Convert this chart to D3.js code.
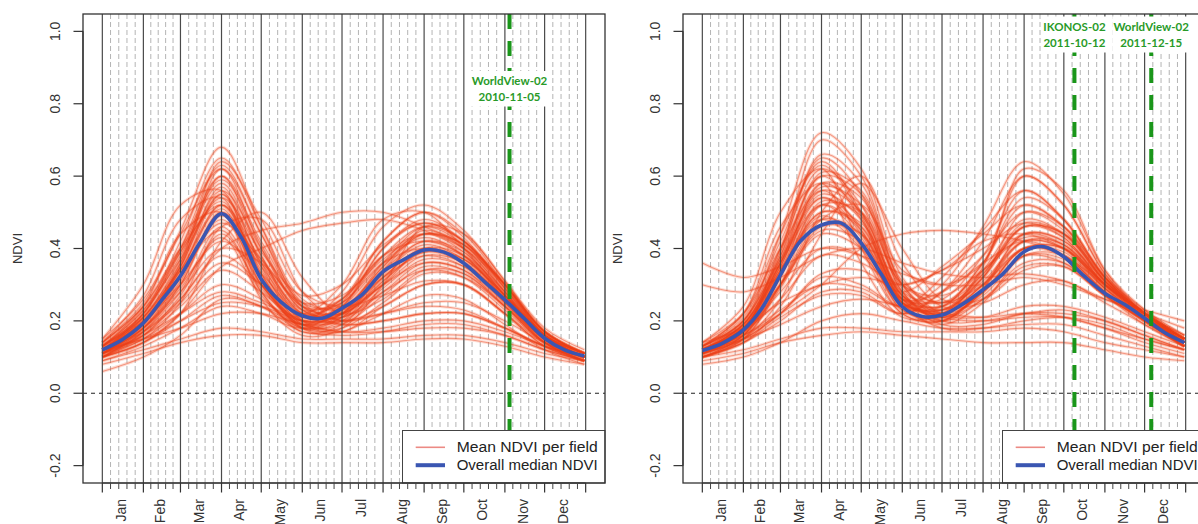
<!DOCTYPE html>
<html>
<head>
<meta charset="utf-8">
<script src="https://cdn.jsdelivr.net/npm/d3@7"></script>
<style>
body { margin: 0; background: #fff; }
svg { display: block; font-family: "Liberation Sans", Arial, sans-serif; }
</style>
</head>
<body>
<svg id="chart" width="1198" height="524"></svg>
<script>
// month axis
var months = ["Jan","Feb","Mar","Apr","May","Jun","Jul","Aug","Sep","Oct","Nov","Dec"];
var monthStarts = [0,31,59,90,120,151,181,212,243,273,304,334,365];
var yTicks = [-0.2, 0.0, 0.2, 0.4, 0.6, 0.8, 1.0];
var legendLabels = ["Mean NDVI per field", "Overall median NDVI"];

// day of year of the samples
var fieldDays = [0,31,59,90,120,151,181,212,243,273,304,334,364];
var medianDays = [0,15,31,45,59,74,90,105,120,135,151,166,181,196,212,227,243,258,273,288,304,319,334,349,364];

// overall median NDVI
var median2010 = [0.120,0.148,0.194,0.258,0.324,0.418,0.496,0.430,0.315,0.252,0.214,0.207,0.235,0.272,0.336,0.368,0.396,0.390,0.359,0.310,0.258,0.205,0.152,0.120,0.103];
var median2011 = [0.118,0.138,0.175,0.235,0.327,0.420,0.465,0.470,0.415,0.330,0.239,0.212,0.216,0.245,0.286,0.330,0.391,0.405,0.377,0.325,0.276,0.245,0.207,0.168,0.140];

// mean NDVI per field (a readable subset of the fields)
var fields2010 = [
  [.12,.20,.34,.52,.34,.21,.24,.36,.43,.38,.26,.15,.10],
  [.11,.18,.31,.50,.30,.20,.22,.33,.41,.37,.27,.16,.11],
  [.13,.22,.38,.58,.38,.22,.22,.30,.40,.38,.28,.16,.10],
  [.10,.17,.28,.46,.30,.19,.23,.35,.45,.40,.28,.15,.10],
  [.12,.21,.36,.56,.40,.24,.25,.38,.46,.41,.29,.17,.11],
  [.14,.24,.40,.60,.42,.25,.24,.34,.42,.39,.27,.15,.10],
  [.11,.19,.33,.55,.36,.20,.20,.28,.36,.34,.25,.15,.10],
  [.12,.20,.35,.62,.44,.24,.22,.31,.39,.37,.27,.16,.10],
  [.13,.23,.39,.53,.33,.20,.24,.40,.48,.42,.30,.17,.11],
  [.10,.16,.27,.44,.29,.19,.21,.33,.42,.38,.26,.14,.09],
  [.12,.19,.32,.48,.32,.21,.26,.42,.50,.43,.29,.16,.10],
  [.11,.18,.30,.49,.35,.22,.23,.32,.38,.35,.25,.14,.09],
  [.13,.21,.35,.57,.35,.19,.19,.27,.35,.33,.24,.15,.10],
  [.12,.22,.42,.65,.46,.26,.23,.30,.38,.36,.26,.16,.11],
  [.15,.26,.44,.62,.40,.23,.21,.29,.37,.35,.26,.16,.11],
  [.11,.19,.34,.51,.31,.18,.18,.25,.33,.32,.24,.14,.09],
  [.12,.20,.33,.47,.37,.25,.27,.37,.44,.41,.30,.17,.11],
  [.13,.23,.37,.54,.39,.27,.30,.41,.47,.42,.30,.17,.11],
  [.12,.21,.37,.60,.38,.20,.17,.18,.20,.20,.17,.13,.10],
  [.11,.19,.35,.55,.33,.18,.16,.17,.19,.19,.16,.12,.09],
  [.14,.25,.45,.68,.46,.24,.19,.20,.22,.22,.18,.13,.10],
  [.13,.22,.40,.63,.44,.25,.20,.22,.25,.25,.20,.14,.10],
  [.10,.17,.30,.50,.36,.22,.19,.20,.22,.22,.18,.13,.09],
  [.10,.15,.22,.30,.26,.19,.25,.42,.50,.44,.30,.16,.10],
  [.11,.16,.24,.34,.28,.20,.28,.46,.52,.45,.31,.17,.11],
  [.09,.13,.18,.24,.22,.18,.24,.40,.47,.42,.29,.16,.10],
  [.12,.17,.25,.36,.30,.22,.30,.48,.50,.40,.27,.15,.10],
  [.10,.14,.20,.27,.24,.19,.22,.35,.44,.41,.28,.15,.10],
  [.11,.16,.22,.28,.25,.21,.26,.38,.42,.38,.27,.16,.11],
  [.09,.12,.15,.18,.17,.15,.15,.15,.16,.16,.14,.11,.09],
  [.08,.11,.14,.16,.16,.14,.14,.14,.15,.15,.13,.10,.08],
  [.12,.15,.20,.25,.24,.20,.20,.22,.24,.23,.18,.13,.10],
  [.10,.14,.22,.35,.40,.45,.47,.48,.45,.40,.30,.17,.11],
  [.11,.16,.26,.40,.45,.47,.50,.50,.46,.41,.30,.16,.10],
  [.12,.15,.18,.22,.22,.19,.17,.17,.18,.18,.16,.12,.09],
  [.06,.10,.16,.26,.24,.17,.17,.22,.27,.26,.19,.12,.08],
  [.12,.18,.28,.40,.36,.24,.22,.30,.36,.34,.24,.14,.10],
  [.11,.17,.26,.38,.30,.19,.17,.24,.30,.30,.22,.13,.09],
  [.13,.20,.30,.42,.33,.22,.25,.36,.40,.36,.25,.15,.10],
  [.14,.24,.40,.52,.32,.18,.20,.32,.40,.37,.27,.16,.10],
  [.12,.22,.39,.59,.41,.23,.21,.28,.34,.32,.23,.14,.09],
  [.10,.18,.32,.52,.37,.23,.26,.38,.44,.39,.27,.15,.10],
  [.13,.21,.34,.45,.28,.17,.19,.31,.39,.36,.26,.15,.10],
  [.11,.18,.29,.43,.27,.18,.22,.36,.46,.42,.30,.17,.11],
  [.12,.20,.36,.64,.48,.28,.24,.27,.31,.30,.22,.14,.10],
  [.15,.30,.52,.56,.30,.20,.22,.32,.40,.36,.26,.16,.11],
  [.14,.27,.48,.54,.28,.18,.21,.34,.44,.40,.28,.16,.10],
  [.10,.14,.22,.42,.50,.32,.22,.26,.34,.33,.24,.14,.09],
  [.11,.15,.25,.46,.48,.28,.20,.24,.30,.30,.22,.13,.09],
  [.13,.24,.44,.50,.26,.16,.18,.30,.46,.44,.31,.18,.12]
];

var fields2011 = [
  [.12,.18,.36,.55,.48,.26,.22,.30,.42,.40,.29,.21,.14],
  [.11,.17,.33,.52,.45,.25,.23,.33,.46,.43,.30,.22,.15],
  [.13,.20,.40,.62,.52,.27,.21,.28,.40,.39,.29,.21,.15],
  [.12,.18,.34,.50,.47,.28,.25,.34,.44,.41,.30,.22,.15],
  [.10,.15,.30,.48,.44,.25,.22,.30,.40,.38,.28,.20,.13],
  [.12,.19,.38,.66,.58,.30,.22,.27,.38,.37,.28,.21,.14],
  [.11,.17,.32,.58,.54,.28,.20,.26,.36,.36,.27,.20,.13],
  [.13,.21,.42,.64,.50,.25,.20,.29,.42,.41,.30,.22,.15],
  [.12,.18,.35,.56,.50,.27,.24,.36,.52,.46,.31,.22,.14],
  [.11,.16,.30,.45,.42,.26,.26,.38,.56,.48,.32,.22,.15],
  [.12,.19,.37,.60,.55,.31,.25,.33,.47,.44,.31,.22,.14],
  [.10,.16,.32,.53,.49,.27,.23,.32,.50,.46,.32,.21,.13],
  [.13,.20,.39,.70,.60,.30,.21,.26,.35,.35,.27,.20,.14],
  [.12,.18,.36,.52,.43,.23,.22,.35,.60,.52,.33,.22,.14],
  [.11,.17,.33,.49,.41,.24,.24,.36,.54,.48,.32,.22,.15],
  [.12,.19,.35,.57,.52,.30,.27,.34,.43,.41,.30,.22,.15],
  [.12,.18,.36,.58,.50,.26,.19,.19,.22,.22,.20,.16,.12],
  [.11,.17,.40,.65,.55,.28,.20,.20,.22,.23,.20,.16,.12],
  [.13,.20,.44,.72,.62,.32,.22,.21,.24,.24,.21,.17,.13],
  [.12,.19,.38,.60,.48,.25,.18,.18,.20,.21,.19,.15,.12],
  [.10,.16,.34,.54,.46,.27,.21,.20,.21,.21,.18,.14,.11],
  [.10,.14,.20,.28,.28,.22,.28,.42,.60,.52,.33,.22,.14],
  [.11,.15,.22,.32,.30,.24,.30,.46,.64,.55,.34,.23,.15],
  [.12,.16,.23,.30,.29,.24,.32,.45,.56,.48,.32,.22,.15],
  [.10,.14,.21,.27,.27,.22,.28,.38,.50,.45,.31,.21,.14],
  [.11,.15,.22,.33,.34,.28,.35,.44,.52,.46,.32,.21,.14],
  [.12,.17,.26,.38,.36,.30,.34,.40,.47,.43,.30,.21,.14],
  [.09,.11,.14,.16,.17,.16,.15,.14,.14,.14,.12,.10,.09],
  [.10,.12,.15,.18,.18,.17,.17,.17,.18,.17,.14,.12,.10],
  [.30,.28,.32,.38,.40,.36,.33,.32,.33,.31,.26,.22,.18],
  [.36,.32,.35,.40,.38,.33,.30,.30,.32,.30,.26,.23,.20],
  [.12,.15,.19,.24,.26,.24,.22,.21,.22,.21,.18,.15,.12],
  [.08,.10,.14,.20,.22,.20,.18,.18,.19,.19,.16,.13,.10],
  [.14,.18,.25,.30,.32,.30,.34,.42,.44,.40,.30,.22,.16],
  [.12,.16,.22,.30,.40,.44,.45,.44,.42,.38,.30,.22,.15],
  [.12,.18,.30,.44,.40,.26,.28,.36,.42,.38,.28,.20,.14],
  [.11,.17,.28,.40,.38,.25,.22,.28,.38,.36,.27,.19,.13],
  [.13,.22,.44,.63,.49,.24,.19,.25,.38,.38,.29,.21,.14],
  [.12,.18,.33,.50,.46,.26,.24,.32,.46,.44,.32,.23,.16],
  [.10,.15,.29,.46,.44,.26,.21,.28,.40,.40,.29,.20,.13],
  [.12,.20,.37,.54,.44,.23,.21,.34,.48,.44,.31,.22,.15],
  [.14,.22,.40,.56,.45,.25,.23,.31,.42,.40,.30,.22,.16],
  [.11,.16,.30,.52,.50,.30,.25,.30,.40,.38,.28,.20,.13],
  [.12,.18,.34,.48,.40,.22,.20,.29,.44,.42,.30,.21,.14],
  [.13,.19,.36,.61,.56,.29,.23,.30,.44,.42,.31,.22,.15],
  [.14,.24,.50,.62,.40,.22,.20,.28,.40,.40,.30,.22,.15],
  [.13,.22,.46,.58,.36,.21,.22,.32,.46,.44,.31,.22,.15],
  [.10,.14,.24,.44,.58,.40,.26,.26,.34,.35,.27,.20,.13],
  [.11,.15,.26,.50,.60,.36,.24,.25,.30,.31,.25,.19,.13],
  [.12,.17,.30,.48,.52,.34,.30,.36,.62,.56,.34,.22,.14]
];

// image acquisitions (day = plotted day of year)
var images2010 = [{sensor: "WorldView-02", date: "2010-11-05", day: 307.5}];
var images2011 = [{sensor: "IKONOS-02", date: "2011-10-12", day: 281},
                  {sensor: "WorldView-02", date: "2011-12-15", day: 339}];

var svg = d3.select("#chart");
var x = d3.scaleLinear().domain([-14.6, 379.6]).range([83, 605]);
var y = d3.scaleLinear().domain([-0.248, 1.048]).range([483, 14]);

var defs = svg.append("defs");
defs.append("clipPath").attr("id", "plotclip")
  .append("rect")
  .attr("x", x.range()[0]).attr("y", y.range()[1])
  .attr("width", x.range()[1] - x.range()[0])
  .attr("height", y.range()[0] - y.range()[1]);

var fieldLine = d3.line()
  .x(function(d, i){ return x(fieldDays[i]); })
  .y(function(d){ return y(d); })
  .curve(d3.curveCatmullRom.alpha(0.5));

var medianLine = d3.line()
  .x(function(d, i){ return x(medianDays[i]); })
  .y(function(d){ return y(d); })
  .curve(d3.curveCatmullRom.alpha(0.5));

// minor days: each month split in five
var minorDays = [];
for (var m = 0; m < 12; m++) {
  var len = monthStarts[m + 1] - monthStarts[m];
  for (var k = 1; k < 5; k++) minorDays.push(monthStarts[m] + len * k / 5);
}

function drawPanel(offset, fields, median, images) {
  var g = svg.append("g").attr("transform", "translate(" + offset + ",0)");
  var plot = g.append("g").attr("clip-path", "url(#plotclip)");

  // light dashed grid
  plot.selectAll(".minor").data(minorDays).enter().append("line")
    .attr("x1", function(d){ return x(d); }).attr("x2", function(d){ return x(d); })
    .attr("y1", y.range()[1]).attr("y2", y.range()[0])
    .attr("stroke", "#b4b4b4").attr("stroke-width", 1)
    .attr("stroke-dasharray", "5,3");

  // zero line
  plot.append("line")
    .attr("x1", x.range()[0]).attr("x2", x.range()[1])
    .attr("y1", y(0)).attr("y2", y(0))
    .attr("stroke", "#222").attr("stroke-width", 1.2)
    .attr("stroke-dasharray", "4,4");

  // fields, drawn twice: a soft wide pass and a sharp thin one
  plot.selectAll(".fieldsoft").data(fields).enter().append("path")
    .attr("d", fieldLine)
    .attr("fill", "none")
    .attr("stroke", "#f4562a")
    .attr("stroke-opacity", 0.2)
    .attr("stroke-width", 3.2);
  plot.selectAll(".field").data(fields).enter().append("path")
    .attr("d", fieldLine)
    .attr("fill", "none")
    .attr("stroke", "#ec3f18")
    .attr("stroke-opacity", 0.45)
    .attr("stroke-width", 1.1);

  // month lines
  plot.selectAll(".month").data(monthStarts).enter().append("line")
    .attr("x1", function(d){ return x(d); }).attr("x2", function(d){ return x(d); })
    .attr("y1", y.range()[1]).attr("y2", y.range()[0])
    .attr("stroke", "#4a4a4a").attr("stroke-width", 1.2);

  // median
  plot.append("path")
    .attr("d", medianLine(median))
    .attr("fill", "none")
    .attr("stroke", "#3a56b2")
    .attr("stroke-width", 3.6)
    .attr("stroke-linejoin", "round");

  // acquisition dates
  plot.selectAll(".img").data(images).enter().append("line")
    .attr("x1", function(d){ return x(d.day); }).attr("x2", function(d){ return x(d.day); })
    .attr("y1", y.range()[1]).attr("y2", y.range()[0])
    .attr("stroke", "#1a961a").attr("stroke-width", 4)
    .attr("stroke-dasharray", "15,12");

  var lab = g.append("g")
    .style("font-family", "Lato, 'Open Sans', sans-serif")
    .style("font-weight", "bold").style("font-size", "11.5px");
  var labY = images.length > 1 ? [30.5, 46.5] : [85, 100.5];
  images.forEach(function(d){
    var cx = x(d.day);
    var bw = d.sensor.length > 10 ? 78 : 66;
    lab.append("rect")
      .attr("x", cx - bw / 2).attr("y", labY[0] - 14)
      .attr("width", bw).attr("height", labY[1] - labY[0] + 20)
      .attr("fill", "#fff");
    lab.append("text")
      .attr("x", cx).attr("y", labY[0])
      .attr("text-anchor", "middle")
      .attr("fill", "#289a28")
      .text(d.sensor);
    lab.append("text")
      .attr("x", cx).attr("y", labY[1])
      .attr("text-anchor", "middle")
      .attr("fill", "#289a28")
      .text(d.date);
  });

  // legend
  var lg = g.append("g");
  lg.append("rect")
    .attr("x", 402.5).attr("y", 430.5)
    .attr("width", x.range()[1] - 402.5).attr("height", y.range()[0] - 430.5)
    .attr("fill", "#fff").attr("stroke", "#444").attr("stroke-width", 1);
  var sampleCol = ["#ec8a84", "#3a56b2"];
  var sampleW = [1.6, 4];
  var rowY = [447.3, 465.2];
  legendLabels.forEach(function(t, i){
    lg.append("line")
      .attr("x1", 415.7).attr("x2", 445)
      .attr("y1", rowY[i]).attr("y2", rowY[i])
      .attr("stroke", sampleCol[i]).attr("stroke-width", sampleW[i]);
    lg.append("text")
      .attr("x", 456.7).attr("y", rowY[i] + 5)
      .attr("textLength", 141).attr("lengthAdjust", "spacingAndGlyphs")
      .style("font-size", "14px").attr("fill", "#222")
      .text(t);
  });

  // box
  g.append("rect")
    .attr("x", x.range()[0]).attr("y", y.range()[1])
    .attr("width", x.range()[1] - x.range()[0])
    .attr("height", y.range()[0] - y.range()[1])
    .attr("fill", "none").attr("stroke", "#333").attr("stroke-width", 1.3);

  // y axis
  var ya = g.append("g");
  ya.selectAll("line").data(yTicks).enter().append("line")
    .attr("x1", x.range()[0] - 9.5).attr("x2", x.range()[0])
    .attr("y1", function(d){ return y(d); }).attr("y2", function(d){ return y(d); })
    .attr("stroke", "#333").attr("stroke-width", 1.2);
  ya.append("line")
    .attr("x1", x.range()[0]).attr("x2", x.range()[0])
    .attr("y1", y(yTicks[0])).attr("y2", y(yTicks[yTicks.length - 1]))
    .attr("stroke", "#333").attr("stroke-width", 1.2);
  ya.selectAll("text").data(yTicks).enter().append("text")
    .attr("transform", function(d){ return "translate(60," + y(d) + ") rotate(-90)"; })
    .attr("text-anchor", "middle")
    .style("font-size", "14px").attr("fill", "#333")
    .text(function(d){ return d.toFixed(1); });
  g.append("text")
    .attr("transform", "translate(22," + ((y.range()[0] + y.range()[1]) / 2) + ") rotate(-90)")
    .attr("text-anchor", "middle")
    .style("font-size", "13px").attr("fill", "#333")
    .text("NDVI");

  // x axis
  var xa = g.append("g");
  xa.append("line")
    .attr("x1", x(0)).attr("x2", x(365))
    .attr("y1", y.range()[0]).attr("y2", y.range()[0])
    .attr("stroke", "#333").attr("stroke-width", 1.2);
  xa.selectAll(".maj").data(monthStarts).enter().append("line")
    .attr("x1", function(d){ return x(d); }).attr("x2", function(d){ return x(d); })
    .attr("y1", y.range()[0]).attr("y2", y.range()[0] + 9.5)
    .attr("stroke", "#333").attr("stroke-width", 1.2);
  xa.selectAll(".min").data(minorDays).enter().append("line")
    .attr("x1", function(d){ return x(d); }).attr("x2", function(d){ return x(d); })
    .attr("y1", y.range()[0]).attr("y2", y.range()[0] + 6)
    .attr("stroke", "#444").attr("stroke-width", 1);
  xa.selectAll("text").data(months).enter().append("text")
    .attr("transform", function(d, i){
      var mid = (monthStarts[i] + monthStarts[i + 1]) / 2;
      return "translate(" + (x(mid) + 3) + ",499) rotate(-90)";
    })
    .attr("text-anchor", "end")
    .style("font-size", "14px").attr("fill", "#333")
    .text(function(d){ return d; });
}

drawPanel(0, fields2010, median2010, images2010);
drawPanel(600, fields2011, median2011, images2011);
</script>
</body>
</html>
